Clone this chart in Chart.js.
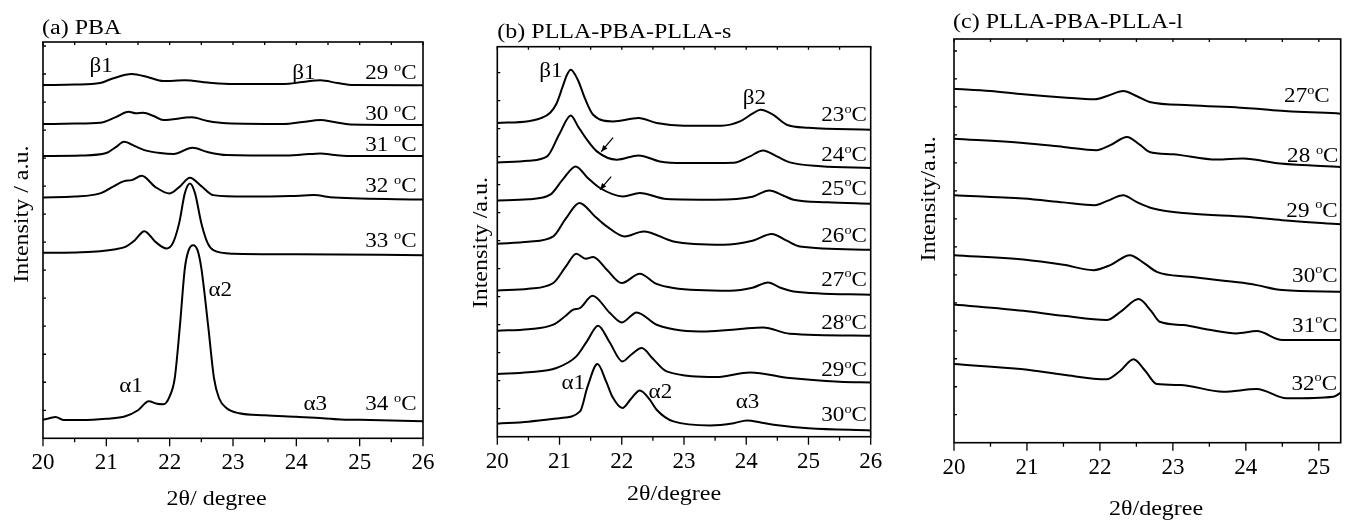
<!DOCTYPE html>
<html>
<head>
<meta charset="utf-8">
<script src="https://cdn.jsdelivr.net/npm/chart.js@4"></script>
<style>
  body { margin: 0; background: #fff; }
  canvas { position: absolute; top: 0; }
</style>
</head>
<body>
<canvas id="chartA" width="440" height="522" style="left:0px"></canvas>
<canvas id="chartB" width="450" height="522" style="left:440px"></canvas>
<canvas id="chartC" width="456" height="522" style="left:890px"></canvas>
<script>
// tick labels (2theta, degree)
var ticksAB = [20, 20.5, 21, 21.5, 22, 22.5, 23, 23.5, 24, 24.5, 25, 25.5, 26];
var ticksC = [20, 20.5, 21, 21.5, 22, 22.5, 23, 23.5, 24, 24.5, 25];

// (a) PBA, stacked intensity (a.u.), [2theta, intensity]
var tempsA = ['29', '30', '31', '32', '33', '34'];
var pba29 = [[20,353],[20.5,353.5],[20.9,355],[21.1,359.5],[21.4,364],[21.65,361],[21.9,357],[22.24,357.7],[22.6,355.5],[23.0,354],[23.8,354],[24.1,356],[24.38,357.7],[24.65,355],[24.9,353],[26,352.7]];
var pba30 = [[20,314],[20.5,314.5],[20.9,315.3],[21.15,321],[21.35,326.3],[21.47,324.7],[21.58,325.3],[21.75,322],[21.9,318],[22.35,320.7],[22.6,317],[22.9,314.7],[23.8,314],[24.1,316],[24.38,318],[24.6,316],[24.85,313.5],[26,313]];
var pba31 = [[20,282],[20.6,282.5],[21.0,285],[21.15,291],[21.28,296.3],[21.45,292],[21.6,288],[21.85,285],[22.06,284],[22.36,290.3],[22.6,286],[22.9,283],[23.8,282.5],[24.1,283.5],[24.38,284.7],[24.6,283],[24.8,282],[26,282]];
var pba32 = [[20,240.7],[20.5,241.5],[20.9,244.7],[21.1,251.3],[21.28,257],[21.4,258],[21.56,262.3],[21.77,251.3],[22.0,244.7],[22.15,251],[22.32,260.3],[22.5,252],[22.69,243],[23.2,241.5],[23.9,242],[24.27,243],[24.6,240.5],[26,238.7]];
var pba33 = [[20,185.3],[20.6,186],[20.9,187],[21.15,189],[21.3,191.3],[21.45,198],[21.6,207],[21.78,196],[21.95,189.7],[22.05,195],[22.15,215],[22.24,245],[22.32,254.7],[22.4,245],[22.5,215],[22.6,195],[22.69,188],[23.0,184.5],[24.0,184],[26,183]];
var pba34 = [[20,18.5],[20.1,20],[20.2,21.3],[20.32,18.3],[20.6,18.2],[21.0,19.5],[21.3,22],[21.5,28],[21.67,37],[21.8,34.5],[21.9,34],[22.0,42],[22.08,60],[22.16,111],[22.24,170],[22.3,188],[22.37,193],[22.44,188],[22.5,170],[22.61,111],[22.7,60],[22.78,40],[22.9,30],[23.1,25],[23.5,23],[24.0,21.5],[24.3,20.5],[24.7,18.8],[25.0,18.5],[26,17]];

// (b) PLLA-PBA-PLLA-s
var tempsB = ['23', '24', '25', '26', '27', '28', '29', '30'];
var sb23 = [[20,313.7],[20.5,315.5],[20.7,318.5],[20.85,324],[20.95,333],[21.05,350],[21.12,362],[21.18,367],[21.3,356],[21.41,338],[21.54,322],[21.86,315.3],[22.27,318.7],[22.56,313.7],[23.0,311],[23.6,311],[23.9,315.3],[24.1,323],[24.23,327],[24.43,322],[24.65,312],[25.0,309],[26,307]];
var sb24 = [[20,274.3],[20.5,276],[20.8,280.3],[21.0,303],[21.18,321.3],[21.3,310],[21.44,297],[21.6,285.3],[21.92,277],[22.27,281.3],[22.61,275.3],[23.0,273.7],[23.8,274],[24.05,280],[24.27,286.3],[24.5,280],[24.7,274.3],[25.2,270.5],[26,268.7]];
var sb25 = [[20,236.3],[20.5,237.5],[20.85,242],[21.05,257],[21.26,270.3],[21.45,259],[21.65,248.7],[22.02,240.3],[22.29,243.7],[22.72,237.7],[23.5,237],[24.1,240],[24.37,246.3],[24.6,241],[24.76,237],[25.3,234.5],[26,233]];
var sb26 = [[20,193],[20.5,195],[20.9,200.3],[21.1,218],[21.32,233.7],[21.57,220.3],[21.76,210.3],[22.05,200.3],[22.35,205.3],[22.83,195.3],[23.63,192],[24.1,196],[24.41,202.7],[24.65,196],[24.86,190.3],[26,187]];
var sb27 = [[20,146.3],[20.5,148],[20.9,153.7],[21.1,170],[21.27,183],[21.42,178],[21.54,179.7],[21.76,167],[22.0,153.7],[22.29,163],[22.55,153],[22.83,148.7],[23.74,146],[24.1,149],[24.35,154.3],[24.55,149],[24.76,145.3],[26,142]];
var sb28 = [[20,106],[20.5,107.5],[20.9,112],[21.1,121],[21.22,127],[21.33,128.7],[21.53,141],[21.81,123.7],[22.0,114.3],[22.24,124.3],[22.56,112],[23.36,105.3],[23.9,107.7],[24.27,109.3],[24.7,103],[26,101]];
var sb29 = [[20,62.7],[20.5,64.5],[20.95,68.7],[21.27,80.3],[21.44,95.3],[21.62,111],[21.8,95],[22.01,75.3],[22.15,82],[22.32,88.7],[22.5,78],[22.72,65.3],[23.52,59.7],[24.06,64.3],[24.7,58.7],[25.5,55],[26,54.3]];
var sb30 = [[20,13],[20.5,15],[21.0,18.5],[21.33,25.3],[21.45,50],[21.61,72.7],[21.75,55],[21.85,40],[22.01,28.7],[22.15,38],[22.29,46.3],[22.45,37],[22.56,27],[22.83,15.3],[23.42,11.3],[23.8,13.5],[24.01,16.3],[24.25,14],[24.44,12],[25.0,8.5],[26,6.3]];

// (c) PLLA-PBA-PLLA-l
var tempsC = ['27', '28', '29', '30', '31', '32'];
var lc27 = [[20,354.3],[20.5,352],[20.95,348.7],[21.5,345.5],[21.93,343.7],[22.1,347],[22.32,352],[22.5,347],[22.68,341],[23.23,337.7],[23.92,335.3],[24.1,334.5],[24.37,332.7],[25.3,329.3]];
var lc28 = [[20,304.3],[20.95,300],[21.5,296],[21.95,292.7],[22.15,298],[22.37,306],[22.55,298],[22.68,291],[23.0,288.7],[23.6,283.3],[23.96,284.3],[24.47,279.3],[25.3,276]];
var lc29 = [[20,247.7],[20.95,244.3],[21.5,240.5],[21.93,237.7],[22.1,242],[22.32,247.7],[22.5,241],[22.73,234.3],[23.23,229.3],[24.0,226],[24.5,222.7],[25.3,218.7]];
var lc30 = [[20,187.7],[20.95,183.4],[21.5,178],[21.91,172.7],[22.15,178],[22.41,187.7],[22.6,180],[22.78,171],[23.23,166],[23.96,160],[24.15,157.7],[24.5,152.7],[25.3,151]];
var lc31 = [[20,138.4],[20.95,132],[21.5,127],[22.09,122.7],[22.3,132],[22.53,143.7],[22.7,132],[22.82,121],[23.14,117.7],[23.5,113],[23.87,109.4],[24.15,111.7],[24.5,102.7],[25.3,102.7]];
var lc32 = [[20,78.7],[20.95,73.4],[21.5,68],[22.09,63.4],[22.28,72],[22.46,83.4],[22.62,72],[22.78,58.7],[23.1,57.7],[23.69,51],[24.15,53.7],[24.56,44.4],[25.2,46],[25.3,50]];

var FONT = "'Liberation Serif', 'Times New Roman', serif";

function txt(ctx, s, x, y, size, align, sx, rot, base) {
  ctx.save();
  ctx.translate(x, y);
  if (rot) ctx.rotate(rot);
  ctx.scale(sx || 1, 1);
  ctx.font = size + 'px ' + FONT;
  ctx.textAlign = align || 'left';
  ctx.textBaseline = base || 'alphabetic';
  ctx.fillStyle = '#000';
  ctx.fillText(s, 0, 0);
  ctx.restore();
}

// "29 °C" style label, right aligned, superscript o
function tempLabel(ctx, num, gap, xr, yb, size, sx) {
  var sup = Math.round(size * 0.62);
  ctx.save();
  ctx.translate(xr, yb);
  ctx.scale(sx, 1);
  ctx.fillStyle = '#000';
  ctx.textAlign = 'left';
  ctx.textBaseline = 'alphabetic';
  ctx.font = size + 'px ' + FONT;
  var w1 = ctx.measureText(num + gap).width;
  var wC = ctx.measureText('C').width;
  ctx.font = sup + 'px ' + FONT;
  var wo = ctx.measureText('o').width;
  var x0 = -(w1 + wo + wC);
  ctx.font = size + 'px ' + FONT;
  ctx.fillText(num + gap, x0, 0);
  ctx.font = sup + 'px ' + FONT;
  ctx.fillText('o', x0 + w1, -size * 0.4);
  ctx.font = size + 'px ' + FONT;
  ctx.fillText('C', x0 + w1 + wo, 0);
  ctx.restore();
}

function deco(spec) {
  return {
    id: 'deco' + spec.name,
    afterDatasetsDraw: function(chart) {
      var ctx = chart.ctx, a = chart.chartArea, x = chart.scales.x, y = chart.scales.y;
      ctx.save();
      ctx.strokeStyle = '#000';
      ctx.lineWidth = 1.6;
      ctx.strokeRect(a.left, a.top, a.right - a.left, a.bottom - a.top);
      ctx.lineWidth = 1.3;
      ctx.beginPath();
      x.ticks.forEach(function(t) {
        var px = x.getPixelForValue(t.value);
        var major = Number.isInteger(t.value);
        ctx.moveTo(px, a.bottom);
        ctx.lineTo(px, a.bottom + (major ? 8 : 4));
        ctx.moveTo(px, a.top);
        ctx.lineTo(px, a.top + 3);
      });
      for (var v = 28; v < y.max; v += 28) {
        var py = y.getPixelForValue(v);
        ctx.moveTo(a.left, py);
        ctx.lineTo(a.left + 3, py);
      }
      ctx.stroke();

      // panel title and axis titles
      txt(ctx, spec.title, a.left + spec.titleDx, a.top + spec.titleDy, 20, 'left', 1.2);
      txt(ctx, spec.xTitle, x.getPixelForValue(spec.xTitleAt), a.bottom + spec.xTitleDy, 20, 'center', 1.2);
      txt(ctx, spec.yTitle, spec.yTitleX, y.getPixelForValue(spec.yTitleAt), 20, 'center', 1.2, -Math.PI / 2, 'middle');

      spec.temps.forEach(function(t, i) {
        var p = spec.tempAt[i];
        tempLabel(ctx, t, spec.gaps[i], x.getPixelForValue(p[0]), y.getPixelForValue(p[1]), 21, 1.1);
      });
      spec.peaks.forEach(function(p) {
        txt(ctx, p[0], x.getPixelForValue(p[1]), y.getPixelForValue(p[2]), 21, 'center', 1.1);
      });
      (spec.arrows || []).forEach(function(ar) {
        var x1 = x.getPixelForValue(ar[0]), y1 = y.getPixelForValue(ar[1]);
        var x2 = x.getPixelForValue(ar[2]), y2 = y.getPixelForValue(ar[3]);
        var ang = Math.atan2(y2 - y1, x2 - x1);
        ctx.lineWidth = 1.3;
        ctx.beginPath();
        ctx.moveTo(x1, y1);
        ctx.lineTo(x2, y2);
        ctx.stroke();
        ctx.beginPath();
        ctx.moveTo(x2, y2);
        ctx.lineTo(x2 - 7 * Math.cos(ang - 0.4), y2 - 7 * Math.sin(ang - 0.4));
        ctx.lineTo(x2 - 7 * Math.cos(ang + 0.4), y2 - 7 * Math.sin(ang + 0.4));
        ctx.closePath();
        ctx.fillStyle = '#000';
        ctx.fill();
      });
      ctx.restore();
    }
  };
}

function makeChart(id, curves, spec) {
  var ctx = document.getElementById(id).getContext('2d');
  return new Chart(ctx, {
    type: 'line',
    data: {
      datasets: curves.map(function(c) {
        return {
          data: c.map(function(p) { return { x: p[0], y: p[1] }; }),
          borderColor: '#000',
          borderWidth: 2,
          pointRadius: 0,
          fill: false,
          cubicInterpolationMode: 'monotone'
        };
      })
    },
    options: {
      responsive: false,
      animation: false,
      events: [],
      layout: { padding: spec.pad },
      plugins: { legend: { display: false }, tooltip: { enabled: false } },
      scales: {
        x: {
          type: 'linear',
          min: spec.xmin,
          max: spec.xmax,
          afterBuildTicks: function(s) { s.ticks = spec.ticks.map(function(v) { return { value: v }; }); },
          afterFit: function(s) { s.height = spec.xh; },
          ticks: {
            autoSkip: false,
            maxRotation: 0,
            padding: 3,
            color: '#000',
            font: { family: FONT, size: 23 },
            callback: function(v) { return Number.isInteger(v) ? String(v) : ''; }
          },
          grid: { drawOnChartArea: false, color: 'rgba(0,0,0,0)', tickLength: 8 },
          border: { display: false }
        },
        y: { display: false, min: 0, max: spec.ymax }
      }
    },
    plugins: [deco(spec)]
  });
}

makeChart('chartA', [pba29, pba30, pba31, pba32, pba33, pba34], {
  name: 'A', pad: { left: 43, right: 17, top: 42, bottom: 0 }, xh: 83.7,
  xmin: 20, xmax: 26, ymax: 396, ticks: ticksAB,
  title: '(a) PBA', titleDx: -1, titleDy: -8,
  xTitle: '2\u03b8/ degree', xTitleAt: 22.74, xTitleDy: 67,
  yTitle: 'Intensity / a.u.', yTitleX: 22.5, yTitleAt: 224,
  temps: tempsA, gaps: [' ', ' ', ' ', ' ', ' ', ' '],
  tempAt: [[25.9, 359], [25.9, 318], [25.9, 287.5], [25.9, 246], [25.9, 191], [25.9, 28]],
  peaks: [['\u03b21', 20.92, 366], ['\u03b21', 24.12, 359], ['\u03b12', 22.8, 142], ['\u03b11', 21.39, 46], ['\u03b13', 24.3, 28]]
});

makeChart('chartB', [sb23, sb24, sb25, sb26, sb27, sb28, sb29, sb30], {
  name: 'B', pad: { left: 57.3, right: 19.3, top: 46.7, bottom: 0 }, xh: 85.3,
  xmin: 20, xmax: 26, ymax: 390, ticks: ticksAB,
  title: '(b) PLLA-PBA-PLLA-s', titleDx: 0, titleDy: -9,
  xTitle: '2\u03b8/degree', xTitleAt: 22.84, xTitleDy: 63.3,
  yTitle: 'Intensity /a.u.', yTitleX: 41.5, yTitleAt: 194,
  temps: tempsB, gaps: ['', '', '', '', '', '', '', ''],
  tempAt: [[25.94, 315.5], [25.94, 275.5], [25.94, 242], [25.94, 194.5], [25.94, 151], [25.94, 107.5], [25.94, 60.5], [25.94, 15.5]],
  peaks: [['\u03b21', 20.86, 360], ['\u03b22', 24.13, 333], ['\u03b11', 21.22, 48], ['\u03b12', 22.62, 39], ['\u03b13', 24.02, 29]],
  arrows: [[21.86, 299, 21.67, 285], [21.83, 260, 21.65, 247]]
});

makeChart('chartC', [lc27, lc28, lc29, lc30, lc31, lc32], {
  name: 'C', pad: { left: 64, right: 5.3, top: 39, bottom: 0 }, xh: 79.3,
  xmin: 20, xmax: 25.3, ymax: 404, ticks: ticksC,
  title: '(c) PLLA-PBA-PLLA-l', titleDx: -1, titleDy: -11,
  xTitle: '2\u03b8/degree', xTitleAt: 22.77, xTitleDy: 72,
  yTitle: 'Intensity/a.u.', yTitleX: 40, yTitleAt: 244,
  temps: tempsC, gaps: ['', ' ', ' ', '', '', ''],
  tempAt: [[25.15, 341], [25.27, 281], [25.26, 226], [25.26, 161], [25.26, 111], [25.25, 53]],
  peaks: []
});
</script>
</body>
</html>
